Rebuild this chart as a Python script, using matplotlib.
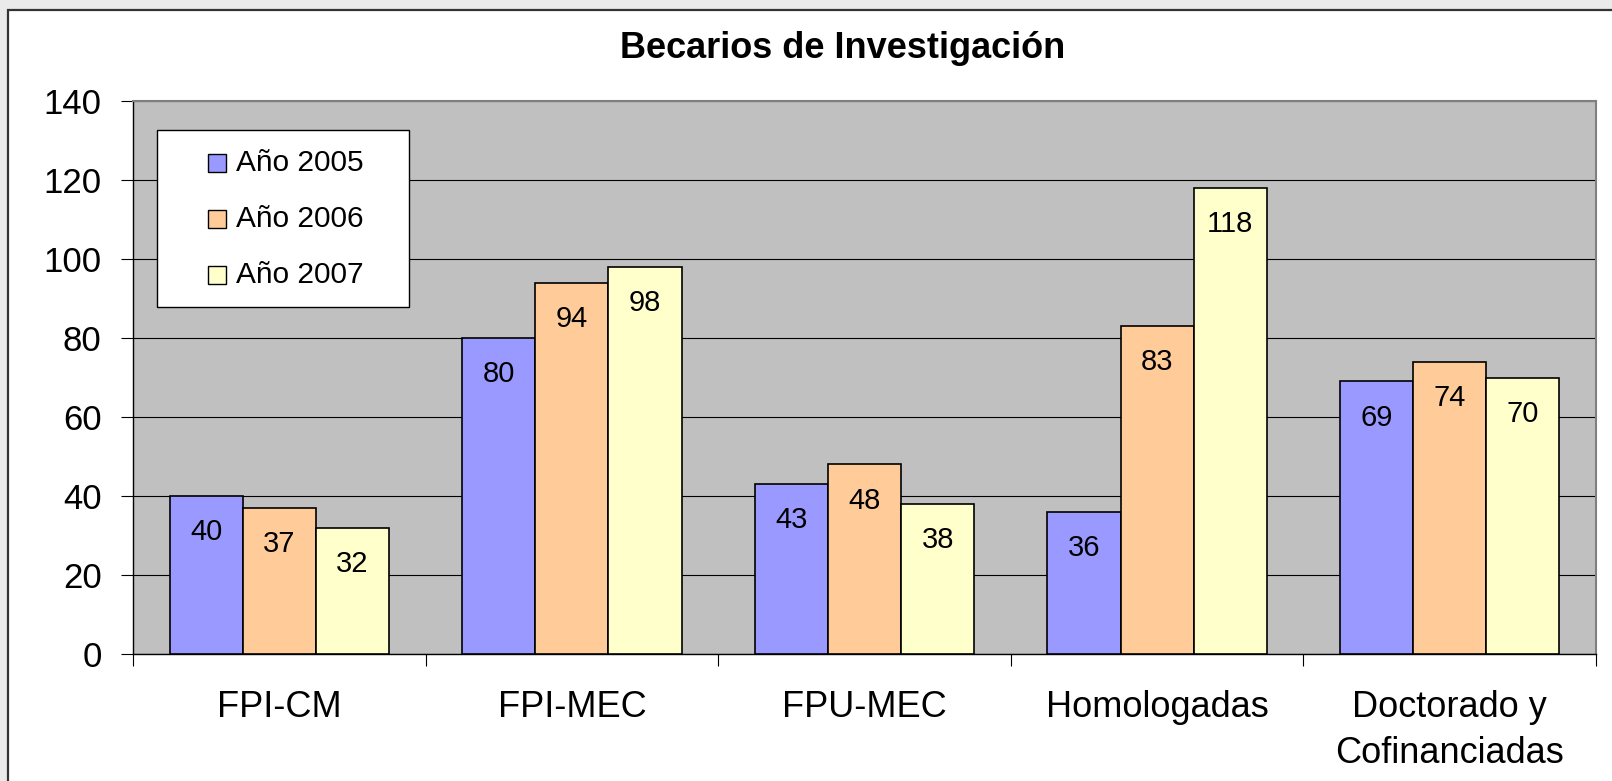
import matplotlib
matplotlib.use('Agg')
import matplotlib.pyplot as plt
import matplotlib.patches as mpatches
import numpy as np

categorias = ["FPI-CM", "FPI-MEC", "FPU-MEC", "Homologadas", "Doctorado y\nCofinanciadas"]
anio_2005 = [40, 80, 43, 36, 69]
anio_2006 = [37, 94, 48, 83, 74]
anio_2007 = [32, 98, 38, 118, 70]
series = [("Año 2005", anio_2005), ("Año 2006", anio_2006), ("Año 2007", anio_2007)]
colores = ["#9999FF", "#FFCC99", "#FFFFCC"]

plt.rcParams['font.family'] = ['Liberation Sans', 'DejaVu Sans']

W, H = 1612, 781
fig = plt.figure(figsize=(W / 100, H / 100), dpi=100)
fig.patch.set_facecolor("#EAEAEA")


def px(x0, y0):
    # pixeles (desde arriba a la izquierda) -> coordenadas de figura
    return x0 / W, 1 - y0 / H


# marco blanco del grafico
marco = mpatches.Rectangle((8 / W, -0.1), 2.0, (H - 10) / H + 0.1,
                           transform=fig.transFigure, facecolor="white",
                           edgecolor="#333333", linewidth=1.6, zorder=-5)
fig.patches.append(marco)

ax = fig.add_axes([133 / W, 1 - 654 / H, (1596 - 133) / W, (654 - 101) / H])
ax.set_facecolor("#C0C0C0")

x = np.arange(len(categorias))
ancho = 0.25
for i, (nombre, vals) in enumerate(series):
    barras = ax.bar(x + (i - 1) * ancho, vals, ancho, color=colores[i],
                    edgecolor="black", linewidth=1.2, label=nombre, zorder=3)
    for b, v in zip(barras, vals):
        ax.annotate(str(v), (b.get_x() + b.get_width() / 2, v),
                    xytext=(0, -26), textcoords="offset points",
                    ha="center", va="center", fontsize=21, zorder=4)

ax.set_xlim(-0.5, len(categorias) - 0.5)
ax.set_ylim(0, 140)
ax.set_yticks(np.arange(0, 141, 20))
ax.yaxis.grid(True, color="black", linewidth=0.8, zorder=1)
ax.set_axisbelow(True)

ax.set_xticks(np.arange(-0.5, len(categorias), 1.0))
ax.set_xticklabels([])
ax.set_xticks(x, minor=True)
ax.set_xticklabels(categorias, minor=True, fontsize=26, linespacing=1.42)
ax.tick_params(axis="x", which="major", length=8.6, width=0.8, direction="out")
ax.tick_params(axis="x", which="minor", length=0, pad=26)
ax.tick_params(axis="y", length=8.6, width=0.8, labelsize=25, pad=14)

for lado in ["left", "bottom"]:
    ax.spines[lado].set_color("black")
    ax.spines[lado].set_linewidth(1.0)
for lado in ["top", "right"]:
    ax.spines[lado].set_color("#808080")
    ax.spines[lado].set_linewidth(1.5)

# leyenda dibujada a mano para copiar la caja de Excel
x0, y0 = px(157, 307)
x1, y1 = px(409, 130)
fig.patches.append(mpatches.Rectangle((x0, y0), x1 - x0, y1 - y0,
                                      transform=fig.transFigure, facecolor="white",
                                      edgecolor="black", linewidth=1.0, zorder=5))
for i, (nombre, _) in enumerate(series):
    yc = 163 + 56 * i
    mx, my = px(208, yc + 9)
    fig.patches.append(mpatches.Rectangle((mx, my), 18 / W, 18 / H,
                                          transform=fig.transFigure,
                                          facecolor=colores[i], edgecolor="black",
                                          linewidth=1.0, zorder=6))
    tx, ty = px(236, yc)
    fig.text(tx, ty, nombre, ha="left", va="center", fontsize=21.5, zorder=6)

tx, ty = px(843, 48)
fig.text(tx, ty, "Becarios de Investigación", ha="center",
         va="center", fontsize=26, fontweight="bold")

fig.savefig("out.png", dpi=100, facecolor=fig.get_facecolor())
